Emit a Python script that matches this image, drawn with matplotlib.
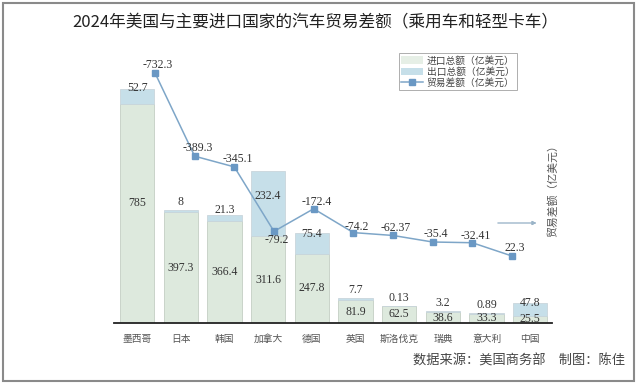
import matplotlib
matplotlib.use('Agg')
import matplotlib.pyplot as plt
from matplotlib.patches import Rectangle, Patch
from matplotlib.lines import Line2D
import numpy as np

plt.rcParams['font.family'] = ['Liberation Serif', 'Noto Sans CJK SC', 'DejaVu Sans']

countries = ['墨西哥', '日本', '韩国', '加拿大', '德国', '英国', '斯洛伐克', '瑞典', '意大利', '中国']
imports = [785, 397.3, 366.4, 311.6, 247.8, 81.9, 62.5, 38.6, 33.3, 25.5]
exports = [52.7, 8, 21.3, 232.4, 75.4, 7.7, 0.13, 3.2, 0.89, 47.8]
balance = [-732.3, -389.3, -345.1, -79.2, -172.4, -74.2, -62.37, -35.4, -32.41, 22.3]
import_txt = ['785', '397.3', '366.4', '311.6', '247.8', '81.9', '62.5', '38.6', '33.3', '25.5']
export_txt = ['52.7', '8', '21.3', '232.4', '75.4', '7.7', '0.13', '3.2', '0.89', '47.8']
balance_txt = ['-732.3', '-389.3', '-345.1', '-79.2', '-172.4', '-74.2', '-62.37', '-35.4', '-32.41', '22.3']

# label nudges in pixels (layout only)
imp_dy = [11, 0, 0, 0, 0, 0, 0, 0, 0, 0]
exp_dy = [1, 8, 5, -25, -1, 8, 8, 8, 8, 0]
bal_dy = [8, 8, 8, -9, 7, 6, 7, 8, 7, 8]

imp_color = '#dde9dd'
exp_color = '#c6dfe9'
line_color = '#7ea6c8'
mark_color = '#6a98c4'
txt_color = '#333333'

W, H = 640, 384
fig = plt.figure(figsize=(6.4, 3.84), dpi=100, facecolor='white')
rect = [114 / W, 61 / H, 438 / W, 263 / H]
ax = fig.add_axes(rect)
ax2 = fig.add_axes(rect, frameon=False)

x = np.arange(len(countries))
tops = np.array(imports) + np.array(exports)
ax.bar(x, imports, width=0.79, color=imp_color, edgecolor='#c4cec4', linewidth=0.6)
ax.bar(x, exports, bottom=imports, width=0.79, color=exp_color, edgecolor='#c9d6dc', linewidth=0.6)
ax.set_xlim(-0.53, 9.5)
ax.set_ylim(0, 943)
for s in ['top', 'right', 'left']:
    ax.spines[s].set_visible(False)
ax.spines['bottom'].set_linewidth(1.3)
ax.spines['bottom'].set_color('#222222')
ax.set_yticks([])
ax.set_xticks(x)
ax.set_xticklabels(countries, fontsize=7, color='#555555', family='Noto Sans CJK SC')
ax.tick_params(axis='x', length=0, pad=8)

for i in range(len(countries)):
    ax.annotate(import_txt[i], (x[i], imports[i] / 2), xytext=(0, imp_dy[i]), textcoords='offset pixels',
                ha='center', va='center', fontsize=8.5, color=txt_color)
    ax.annotate(export_txt[i], (x[i], tops[i]), xytext=(0, exp_dy[i]), textcoords='offset pixels',
                ha='center', va='center', fontsize=8.5, color=txt_color)

ax2.plot(x, balance, color=line_color, linewidth=1.1, marker='s', markersize=4,
         markerfacecolor=mark_color, markeredgecolor=mark_color)
ax2.set_xlim(-1.034, 10.01)
ax2.set_ylim(298.6, -785.9)
ax2.set_xticks([])
ax2.set_yticks([])
for i in range(len(countries)):
    ax2.annotate(balance_txt[i], (x[i], balance[i]), xytext=(3, bal_dy[i]), textcoords='offset pixels',
                 ha='center', va='center', fontsize=8.5, color=txt_color)

# legend
handles = [Patch(facecolor='#e6efe6', edgecolor='none'),
           Patch(facecolor=exp_color, edgecolor='none'),
           Line2D([], [], color=line_color, linewidth=1.1, marker='s', markersize=4,
                  markerfacecolor=mark_color, markeredgecolor=mark_color)]
labels = ['进口总额（亿美元）', '出口总额（亿美元）', '贸易差额（亿美元）']
leg = fig.legend(handles, labels, loc='upper left', bbox_to_anchor=(399 / W, 1 - 53 / H),
                 prop={'family': 'Noto Sans CJK SC', 'size': 7}, frameon=True, fancybox=False,
                 borderpad=0.25, labelspacing=0.12, handlelength=2.2, handleheight=0.8,
                 handletextpad=0.4, borderaxespad=0)
leg.get_frame().set_edgecolor('#999999')
leg.get_frame().set_linewidth(0.7)
for t in leg.get_texts():
    t.set_color('#444444')

# titles and notes
fig.text(315 / W, 1 - 23 / H, '2024年美国与主要进口国家的汽车贸易差额（乘用车和轻型卡车）',
         ha='center', va='center', fontsize=12, color='#222222', family='Noto Sans CJK SC')
fig.text(625 / W, 1 - 361 / H, '数据来源：美国商务部　制图：陈佳', ha='right', va='center',
         fontsize=9.5, color='#444444', family='Noto Sans CJK SC')
fig.text(553 / W, 1 - 188 / H, '贸易差额（亿美元）', rotation=90, ha='center', va='center',
         fontsize=7.8, color='#555555', family='Noto Sans CJK SC')
fig.add_artist(plt.annotate('', xy=(539 / W, 1 - 223 / H), xytext=(495 / W, 1 - 223 / H),
                            xycoords='figure fraction', textcoords='figure fraction',
                            arrowprops=dict(arrowstyle='-|>', color='#9ab4c8', lw=0.6, mutation_scale=6)))

fig.patches.append(Rectangle((3 / W, 3 / H), 631 / W, 378 / H, transform=fig.transFigure,
                             fill=False, edgecolor='#8a8a8a', linewidth=1.5, zorder=10))

fig.savefig('out.png', dpi=100)
